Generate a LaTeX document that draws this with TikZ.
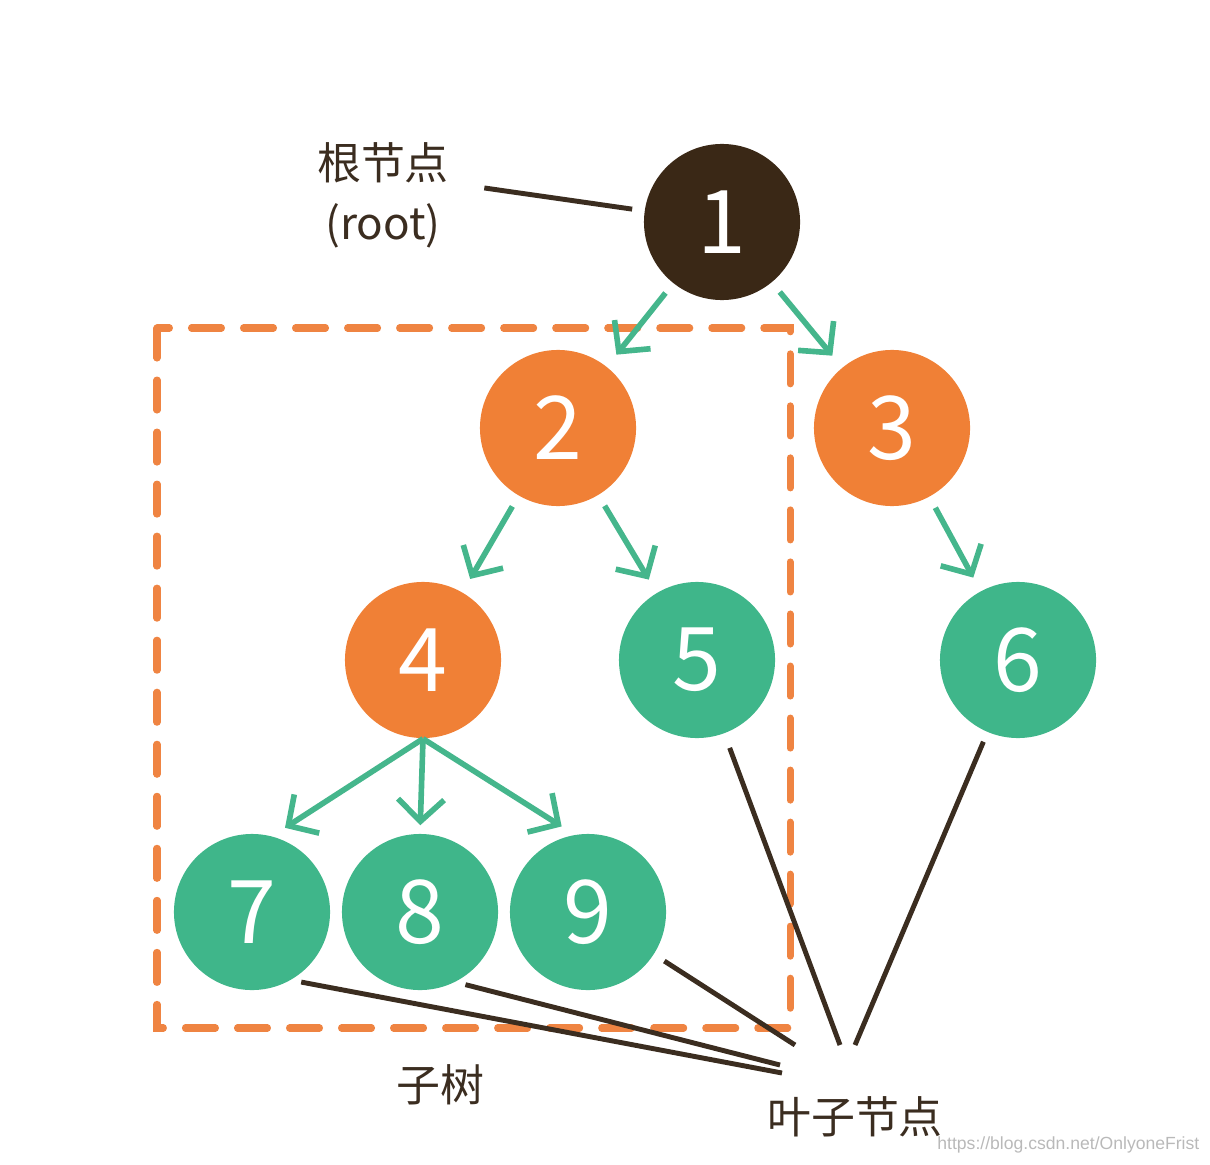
\documentclass[tikz,border=0pt]{standalone}
\usepackage{fontspec}
\setmainfont{Noto Sans CJK SC}
\newfontfamily\markfont{Liberation Sans}
\usetikzlibrary{arrows.meta,positioning}
\definecolor{rootbrown}{HTML}{3A2816}
\definecolor{nodeorange}{HTML}{F08036}
\definecolor{nodegreen}{HTML}{3FB68A}
\definecolor{arrowgreen}{HTML}{45B68C}
\definecolor{linebrown}{HTML}{3B2D20}
\definecolor{dashorange}{HTML}{EF8442}
\tikzset{
  tn/.style={circle,minimum size=1.56cm,inner sep=0pt,text=white,font=\fontsize{25}{25}\selectfont},
  innernode/.style={tn,fill=nodeorange},
  leafnode/.style={tn,fill=nodegreen},
  edgearrow/.style={arrowgreen,line width=1.6pt,-{Straight Barb[length=2.2mm,width=4.6mm]},shorten <=.12cm,shorten >=.15cm},
  pointer/.style={linebrown,line width=1.4pt},
  cnlabel/.style={inner sep=0pt,text=linebrown,font=\fontsize{12.5}{17}\selectfont},
  subtree/.style={dashorange,line width=2pt,line cap=round,dash pattern=on .3cm off .22cm}
}
\begin{document}
\begin{tikzpicture}[x=.01cm,y=-.01cm]
\useasboundingbox (0,0) rectangle (1210,1164);
\draw [subtree] (157,328) rectangle (790,1028);

\node [tn,fill=rootbrown] at (722,222) (n1) {1};
\node [innernode] at (558,428) (n2) {2};
\node [innernode] at (892,428) (n3) {3};
\node [innernode] at (423,660) (n4) {4};
\node [leafnode] at (697,660) (n5) {5};
\node [leafnode] at (1018,660) (n6) {6};
\node [leafnode] at (252,912) (n7) {7};
\node [leafnode] at (420,912) (n8) {8};
\node [leafnode] at (588,912) (n9) {9};

\draw [edgearrow] (n1) -- (n2);
\draw [edgearrow] (n1) -- (n3);
\draw [edgearrow] (n2) -- (n4);
\draw [edgearrow] (n2) -- (n5);
\draw [edgearrow] (n3) -- (n6);
\draw [edgearrow,shorten <=0pt] (n4.south) -- (n7.75);
\draw [edgearrow,shorten <=0pt,shorten >=.08cm] (n4.south) -- (n8.north);
\draw [edgearrow,shorten <=0pt] (n4.south) -- (n9.100);

% labels
\node [cnlabel,align=center] at (383,195) (rootlbl) {根节点\\(root)};
\node [cnlabel] at (440,1085) (sublbl) {子树};
\node [cnlabel] at (855,1117) (leaflbl) {叶子节点};
\node [font=\markfont\fontsize{5}{6}\selectfont,text=gray!55,anchor=east,inner sep=0pt] at (1200,1145) (mark) {https://blog.csdn.net/OnlyoneFrist};

\coordinate (e5) at (840,1045);
\coordinate (e6) at (855,1045);
\coordinate (e9) at (795,1045);
\coordinate (e8) at (780,1065);
\coordinate (e7) at (782,1073);

\draw [pointer,shorten <=.35cm,shorten >=.12cm] ([yshift=.12cm]rootlbl.east) -- (n1);
\draw [pointer,shorten <=.15cm] (n5) -- (e5);
\draw [pointer,shorten <=.1cm] (n6) -- (e6);
\draw [pointer,shorten <=.12cm] (n9) -- (e9);
\draw [pointer,shorten <=.1cm] (n8.-63) -- (e8);
\draw [pointer,shorten <=.1cm] (n7.-60) -- (e7);
\end{tikzpicture}
\end{document}
